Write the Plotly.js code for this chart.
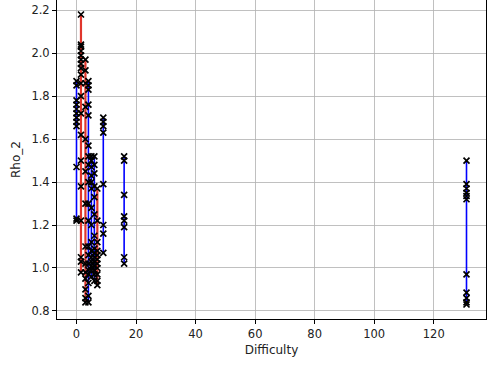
<!DOCTYPE html>
<html>
<head>
<meta charset="utf-8">
<script src="https://cdn.plot.ly/plotly-3.0.1.min.js"></script>
<style>html,body{margin:0;padding:0;background:#fff;}#chart{width:487px;height:367px;}</style>
</head>
<body>
<div id="chart"></div>
<script>
// Difficulty value of each group
const difficulty = [0, 1.5, 3, 4, 5, 6, 7, 9, 16, 131];
// group class (A = first series, B = second series)
const groupClass = ['A', 'B', 'B', 'A', 'A', 'A', 'B', 'A', 'A', 'A'];
// Rho_2 values of each group
const rho0 = [1.87, 1.85, 1.78, 1.76, 1.74, 1.72, 1.70, 1.68, 1.66, 1.47, 1.23, 1.22];
const rho1 = [2.18, 2.04, 2.03, 2.01, 1.99, 1.97, 1.95, 1.93, 1.90, 1.86, 1.80, 1.72, 1.62, 1.50, 1.38, 1.22, 1.05, 1.03, 0.98];
const rho2 = [1.97, 1.92, 1.86, 1.75, 1.60, 1.45, 1.30, 1.10, 1.02, 0.98, 0.95, 0.90, 0.86, 0.84];
const rho3 = [1.87, 1.85, 1.83, 1.76, 1.71, 1.57, 1.52, 1.48, 1.40, 1.30, 1.22, 1.10, 1.06, 1.02, 0.99, 0.97, 0.93, 0.87, 0.84];
const rho4 = [1.52, 1.50, 1.47, 1.43, 1.40, 1.37, 1.28, 1.20, 1.12, 1.08, 1.05, 1.03, 1.01, 0.99, 0.96];
const rho5 = [1.52, 1.48, 1.44, 1.38, 1.33, 1.25, 1.15, 1.09, 1.07, 1.05, 1.03, 1.01, 0.99, 0.97, 0.94];
const rho6 = [1.37, 1.22, 1.12, 1.08, 1.06, 1.04, 1.02, 1.00, 0.97, 0.94, 0.92];
const rho7 = [1.70, 1.68, 1.66, 1.63, 1.39, 1.20, 1.16, 1.07];
const rho8 = [1.52, 1.50, 1.34, 1.24, 1.22, 1.19, 1.05, 1.02];
const rho9 = [1.50, 1.39, 1.37, 1.35, 1.335, 1.32, 0.97, 0.885, 0.86, 0.84, 0.83];
const rhoGroups = [rho0, rho1, rho2, rho3, rho4, rho5, rho6, rho7, rho8, rho9];

const lineColor = {A: '#0000ff', B: '#e0362c'};
const lineWidth = {A: 1.6, B: 2.2};

const traces = [];
// lines: blue first, then red on top
['A', 'B'].forEach(cls => {
  difficulty.forEach((d, i) => {
    if (groupClass[i] !== cls) return;
    traces.push({
      x: rhoGroups[i].map(() => d), y: rhoGroups[i], type: 'scatter', mode: 'lines',
      line: {color: lineColor[cls], width: lineWidth[cls]}, hoverinfo: 'skip', showlegend: false
    });
  });
});
// markers on top
difficulty.forEach((d, i) => {
  traces.push({
    x: rhoGroups[i].map(() => d), y: rhoGroups[i], type: 'scatter', mode: 'markers',
    marker: {symbol: 'x-thin', size: 6, color: '#000', line: {color: '#000', width: 1.7}},
    showlegend: false
  });
});

const axisCommon = {
  showgrid: true, gridcolor: '#b0b0b0', gridwidth: 0.8,
  zeroline: false, showline: true, linecolor: '#000', linewidth: 1,
  ticks: 'outside', ticklen: 4, tickwidth: 1, tickcolor: '#000',
  tickfont: {family: 'DejaVu Sans', size: 11.5, color: '#222'}
};

const layout = {
  width: 487, height: 367,
  margin: {l: 57, r: 1, t: 0, b: 48},
  paper_bgcolor: '#fff', plot_bgcolor: '#fff',
  xaxis: Object.assign({}, axisCommon, {
    range: [-6.55, 137.55], tickvals: [0, 20, 40, 60, 80, 100, 120],
    title: {text: 'Difficulty', font: {family: 'DejaVu Sans', size: 12, color: '#222'}, standoff: 5}
  }),
  yaxis: Object.assign({}, axisCommon, {
    range: [0.7625, 2.2475], tickvals: [0.8, 1.0, 1.2, 1.4, 1.6, 1.8, 2.0, 2.2],
    ticktext: ['0.8', '1.0', '1.2', '1.4', '1.6', '1.8', '2.0', '2.2'],
    mirror: true,
    title: {text: 'Rho_2', font: {family: 'DejaVu Sans', size: 12, color: '#222'}, standoff: 8}
  }),
  showlegend: false
};

Plotly.newPlot('chart', traces, layout, {displayModeBar: false, staticPlot: true});
</script>
</body>
</html>
